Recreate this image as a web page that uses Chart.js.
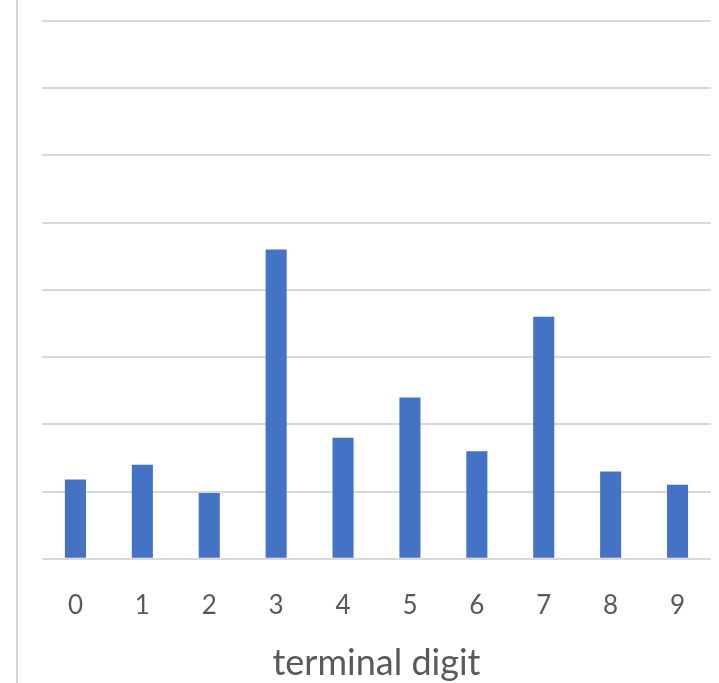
<!DOCTYPE html>
<html>
<head>
<meta charset="utf-8">
<script src="https://cdn.jsdelivr.net/npm/chart.js@4"></script>
<style>
  html, body { margin: 0; padding: 0; background: #fff; }
  #wrap { position: relative; width: 719px; height: 683px; }
  #edge { position: absolute; left: 16px; top: 0; width: 2px; height: 683px; background: #d9d9d9; }
</style>
</head>
<body>
<div id="wrap">
  <div id="edge"></div>
  <canvas id="grafico" width="719" height="683"></canvas>
</div>
<script>
const digitos = ['0', '1', '2', '3', '4', '5', '6', '7', '8', '9'];
const percentagens = [5.9, 7, 4.9, 23, 9, 12, 8, 18, 6.5, 5.5];
const eixoY = { min: 0, max: 40, passo: 5 };

const ctx = document.getElementById('grafico').getContext('2d');

const grafico = new Chart(ctx, {
    type: 'bar',
    data: {
        labels: digitos,
        datasets: [{
            label: '',
            data: percentagens,
            backgroundColor: '#4472C4',
            categoryPercentage: 1,
            barPercentage: 0.315
        }]
    },
    options: {
        responsive: false,
        animation: false,
        layout: {
            padding: { left: 42, right: 8, top: 21, bottom: 2 }
        },
        plugins: {
            legend: { display: false },
            title: { display: false },
            tooltip: { enabled: false }
        },
        scales: {
            x: {
                grid: { display: false },
                border: { display: false },
                ticks: {
                    color: '#595959',
                    padding: 23,
                    font: { family: 'Lato', size: 26 }
                },
                title: {
                    display: true,
                    text: 'terminal digit',
                    color: '#595959',
                    padding: { top: 1, bottom: 0 },
                    font: { family: 'Lato', size: 36, lineHeight: 1 }
                }
            },
            y: {
                min: eixoY.min,
                max: eixoY.max,
                grid: {
                    color: '#d9d9d9',
                    lineWidth: 2,
                    drawTicks: false
                },
                border: { display: false },
                ticks: {
                    display: false,
                    stepSize: eixoY.passo
                }
            }
        }
    }
});
</script>
</body>
</html>
